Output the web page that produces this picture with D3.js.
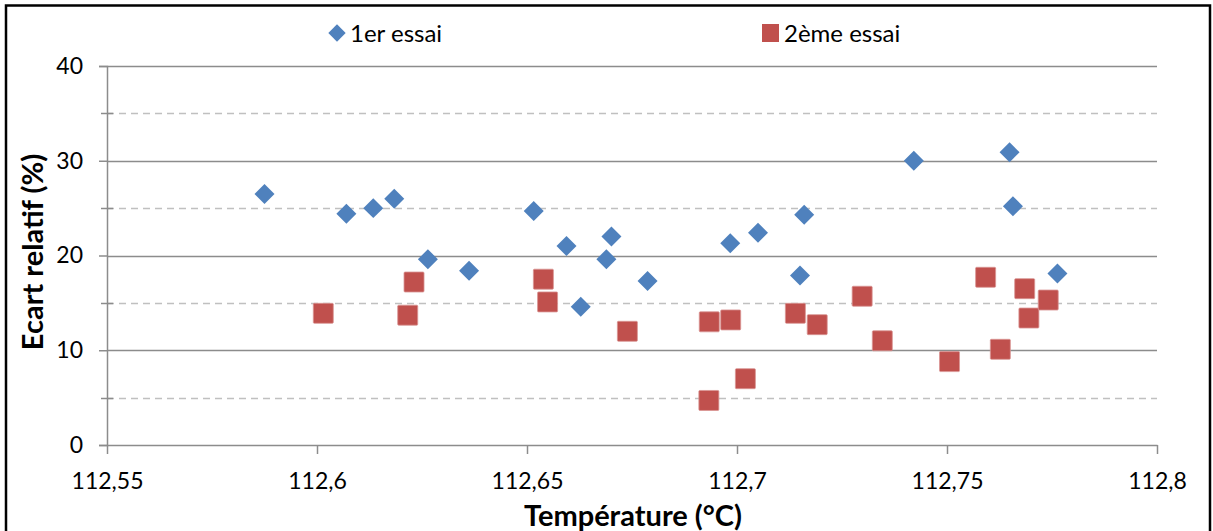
<!DOCTYPE html>
<html>
<head>
<meta charset="utf-8">
<script src="https://cdn.jsdelivr.net/npm/d3@7"></script>
<style>
  html, body { margin: 0; padding: 0; background: #fff; }
  svg { display: block; }
  text { font-family: Lato, "Liberation Sans", sans-serif; fill: #000; }
</style>
</head>
<body>
<svg id="chart" width="1213" height="531"></svg>
<script>
// Series: temperature (°C) and relative deviation (%)
const essai1Temp = [112.5875, 112.607, 112.6134, 112.6184, 112.6264, 112.6362, 112.6516, 112.6594,
  112.6628, 112.6689, 112.6701, 112.6787, 112.6984, 112.705, 112.715, 112.716, 112.7421, 112.7649,
  112.7657, 112.7763];
const essai1Ecart = [26.5, 24.4, 25.0, 26.0, 19.6, 18.4, 24.7, 21.0,
  14.6, 19.6, 22.0, 17.3, 21.3, 22.4, 17.9, 24.3, 30.0, 30.9,
  25.2, 18.1];

const essai2Temp = [112.6015, 112.6216, 112.6231, 112.6539, 112.6549, 112.6739, 112.6933, 112.6934,
  112.6985, 112.702, 112.7139, 112.7191, 112.7298, 112.7346, 112.7506, 112.7592, 112.7627, 112.7685,
  112.7695, 112.7741];
const essai2Ecart = [13.9, 13.7, 17.2, 17.5, 15.1, 12.0, 4.7, 13.0,
  13.2, 7.0, 13.9, 12.7, 15.7, 11.0, 8.8, 17.7, 10.1, 16.5,
  13.4, 15.3];

const xTicks = [112.55, 112.6, 112.65, 112.7, 112.75, 112.8];
const yMajorTicks = [0, 10, 20, 30, 40];
const yMinorTicks = [5, 15, 25, 35];
const seriesNames = ["1er essai", "2ème essai"];

const svg = d3.select("#chart");
const W = 1213, H = 531;
const plot = { left: 107, right: 1157, top: 66, bottom: 445 };

const x = d3.scaleLinear().domain([112.55, 112.8]).range([plot.left, plot.right]);
const y = d3.scaleLinear().domain([0, 40]).range([plot.bottom, plot.top]);
const fmt = v => String(+v.toFixed(2)).replace(".", ",");

// outer frame
svg.append("rect")
  .attr("x", 6).attr("y", 5.5).attr("width", W - 9).attr("height", H)
  .attr("fill", "#fff").attr("stroke", "#000").attr("stroke-width", 2.5);

// dashed minor gridlines
svg.append("g").selectAll("line").data(yMinorTicks).join("line")
  .attr("x1", plot.left).attr("x2", plot.right)
  .attr("y1", d => Math.round(y(d)) + 0.5).attr("y2", d => Math.round(y(d)) + 0.5)
  .attr("stroke", "#c0c0c0").attr("stroke-width", 1.5).attr("stroke-dasharray", "7,5");

// solid major gridlines
svg.append("g").selectAll("line").data(yMajorTicks.filter(d => d > 0)).join("line")
  .attr("x1", plot.left).attr("x2", plot.right)
  .attr("y1", d => Math.round(y(d)) + 0.5).attr("y2", d => Math.round(y(d)) + 0.5)
  .attr("stroke", "#8c8c8c").attr("stroke-width", 1.5);

// y axis (ticks crossing the axis line)
const yAxis = svg.append("g").attr("transform", `translate(${plot.left},0)`)
  .call(d3.axisLeft(y).tickValues(yMajorTicks).tickSize(8).tickPadding(16).tickFormat(fmt));
yAxis.select(".domain").attr("stroke", "#8c8c8c").attr("stroke-width", 1.5);
yAxis.selectAll(".tick line").attr("stroke", "#8c8c8c").attr("stroke-width", 1.5);
yAxis.selectAll(".tick text").attr("font-size", 23).attr("font-family", "Lato, sans-serif").attr("fill", "#000");
svg.append("g").selectAll("line").data(yMinorTicks).join("line")
  .attr("x1", plot.left - 6).attr("x2", plot.left + 6)
  .attr("y1", d => Math.round(y(d)) + 0.5).attr("y2", d => Math.round(y(d)) + 0.5)
  .attr("stroke", "#8c8c8c").attr("stroke-width", 1.5);

// x axis
const xAxis = svg.append("g").attr("transform", `translate(0,${plot.bottom})`)
  .call(d3.axisBottom(x).tickValues(xTicks).tickSize(9).tickSizeOuter(0).tickPadding(19).tickFormat(fmt));
xAxis.select(".domain").attr("stroke", "#8c8c8c").attr("stroke-width", 1.5);
xAxis.selectAll(".tick line").attr("stroke", "#8c8c8c").attr("stroke-width", 1.5);
xAxis.selectAll(".tick text").attr("font-size", 23).attr("font-family", "Lato, sans-serif").attr("fill", "#000");

// axis titles
svg.append("text")
  .attr("x", 633).attr("y", 526)
  .attr("text-anchor", "middle").attr("font-size", 29).attr("font-weight", "bold")
  .text("Température (°C)");
svg.append("text")
  .attr("transform", `translate(43,252) rotate(-90)`)
  .attr("text-anchor", "middle").attr("font-size", 29).attr("font-weight", "bold")
  .text("Ecart relatif (%)");

// markers
const diamond = d3.symbol().type(d3.symbolSquare).size(200);
const s1 = essai1Temp.map((t, i) => ({ t, v: essai1Ecart[i] }));
const s2 = essai2Temp.map((t, i) => ({ t, v: essai2Ecart[i] }));

svg.append("g").selectAll("path").data(s1).join("path")
  .attr("d", diamond)
  .attr("transform", d => `translate(${x(d.t)},${y(d.v)}) rotate(45)`)
  .attr("fill", "#4f81bd");

const sq = 20;
svg.append("g").selectAll("rect").data(s2).join("rect")
  .attr("x", d => x(d.t) - sq / 2).attr("y", d => y(d.v) - sq / 2)
  .attr("width", sq).attr("height", sq).attr("rx", 1)
  .attr("fill", "#c0504d").attr("stroke", "#d99694").attr("stroke-width", 0.8);

// legend
const legend = svg.append("g");
legend.append("path").attr("d", d3.symbol().type(d3.symbolSquare).size(150))
  .attr("transform", "translate(337,33) rotate(45)").attr("fill", "#4f81bd");
legend.append("text").attr("x", 350).attr("y", 42).attr("font-size", 24).text(seriesNames[0]);
legend.append("rect").attr("x", 762).attr("y", 24).attr("width", 17).attr("height", 18)
  .attr("fill", "#c0504d");
legend.append("text").attr("x", 784).attr("y", 42).attr("font-size", 24).text(seriesNames[1]);
</script>
</body>
</html>
